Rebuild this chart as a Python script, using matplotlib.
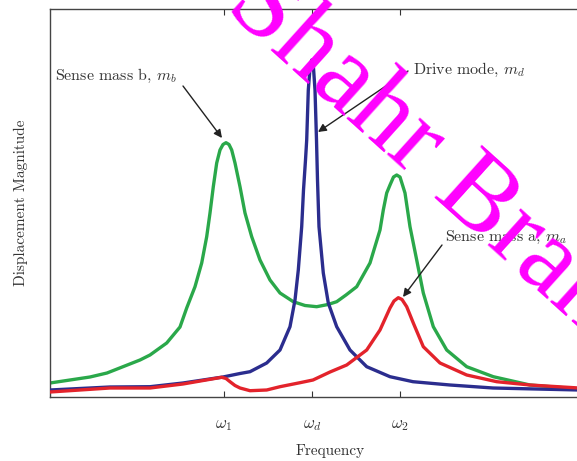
import matplotlib
matplotlib.use("Agg")
import matplotlib.pyplot as plt

plt.rcParams['font.family'] = 'serif'
plt.rcParams['font.serif'] = ['cmr10', 'DejaVu Serif']
plt.rcParams['mathtext.fontset'] = 'cm'
plt.rcParams['axes.unicode_minus'] = False

# ---- data (arbitrary frequency / magnitude units) ----
tick_pos = [17.4, 26.2, 35.0]
tick_labels = [r'$\omega_1$', r'$\omega_d$', r'$\omega_2$']

green_x = [0.0, 4.0, 5.7, 9.0, 10.0, 11.67, 13.0, 13.67, 14.5, 15.17,
           15.67, 16.0, 16.33, 16.67, 17.0, 17.3, 17.6, 17.9, 18.17, 18.5,
           19.0, 19.5, 20.17, 21.0, 22.0, 23.0, 24.33, 25.5, 26.67, 27.8,
           28.67, 29.6, 30.67, 32.0, 33.0, 33.33, 33.67, 34.0, 34.35, 34.67,
           35.0, 35.5, 36.0, 36.67, 37.33, 38.33, 39.67, 41.67, 44.33, 48.0,
           52.9]
green_y = [1.4, 2.0, 2.4, 3.7, 4.2, 5.4, 7.0, 8.9, 11.03, 13.4,
           16.03, 18.4, 21.03, 23.4, 24.7, 25.25, 25.43, 25.25, 24.7, 23.4,
           21.03, 18.4, 16.03, 13.7, 11.7, 10.4, 9.53, 9.15, 9.03, 9.25,
           9.53, 10.2, 11.03, 13.4, 16.7, 18.7, 20.4, 21.2, 22.0, 22.2,
           22.0, 20.4, 17.03, 13.7, 10.4, 7.03, 4.7, 3.03, 2.03, 1.2,
           0.8]

blue_x = [0.0, 6.0, 10.0, 13.3, 17.3, 19.0, 20.0, 21.67, 23.0, 24.0,
          24.5, 24.83, 25.17, 25.35, 25.55, 25.67, 25.83, 26.0, 26.17, 26.35,
          26.5, 26.65, 26.75, 26.9, 27.33, 27.83, 28.67, 30.0, 31.67, 34.0,
          36.3, 40.0, 44.3, 52.9]
blue_y = [0.7, 1.0, 1.03, 1.4, 2.0, 2.35, 2.53, 3.4, 4.7, 7.03,
          9.7, 12.7, 17.03, 20.7, 23.7, 25.7, 30.7, 32.9, 33.7, 32.9,
          30.7, 25.7, 21.7, 17.03, 12.4, 9.4, 7.03, 4.7, 3.03, 2.03,
          1.53, 1.2, 0.9, 0.7]

red_x = [0.0, 6.0, 10.0, 13.3, 17.17, 17.6, 18.0, 18.5, 19.0, 20.0,
         21.67, 23.0, 25.0, 26.3, 28.0, 29.67, 31.67, 33.0, 34.0, 34.4,
         34.83, 35.2, 35.67, 36.33, 37.33, 39.0, 41.67, 44.67, 48.0, 52.9]
red_y = [0.5, 0.9, 0.9, 1.3, 1.97, 1.85, 1.53, 1.15, 0.9, 0.63,
         0.7, 1.03, 1.43, 1.7, 2.5, 3.2, 4.7, 6.7, 8.9, 9.6,
         9.93, 9.75, 9.03, 7.4, 5.03, 3.4, 2.2, 1.53, 1.2, 0.9]

labels = ['Sense mass b, $m_b$', 'Drive mode, $m_d$', 'Sense mass a, $m_a$']
label_pos = [(0.5, 32.1), (36.3, 32.7), (39.5, 16.0)]
arrow_tail = [(13.3, 31.1), (35.8, 32.6), (39.2, 15.2)]
arrow_tip = [(17.2, 25.9), (26.8, 26.5), (35.3, 10.0)]

# ---- figure ----
W, H = 577, 461
fig = plt.figure(figsize=(W / 100, H / 100), dpi=100)
ax = fig.add_axes([50 / W, 64 / H, 560 / W, 388 / H])
ax.set_xlim(0, 56)
ax.set_ylim(0, 38.8)

lw = 2.4
ax.plot(green_x, green_y, color='#2aa84a', lw=lw, solid_joinstyle='round', zorder=2)
ax.plot(blue_x, blue_y, color='#2b2d8e', lw=lw, solid_joinstyle='round', zorder=3)
ax.plot(red_x, red_y, color='#e3232b', lw=lw, solid_joinstyle='round', zorder=4)

for s in ax.spines.values():
    s.set_color('#444444')
    s.set_linewidth(1.0)

ax.set_xticks(tick_pos)
ax.set_xticklabels(tick_labels, fontsize=12, color='#333333')
ax.set_yticks([])
ax.tick_params(axis='x', direction='in', top=True, length=4, width=0.8,
               color='#333333', pad=15)
ax.set_xlabel('Frequency', fontsize=11, color='#333333', labelpad=8)
ax.set_ylabel('Displacement Magnitude', fontsize=11, color='#333333', labelpad=16)

for txt, pos, tail, tip in zip(labels, label_pos, arrow_tail, arrow_tip):
    ax.text(pos[0], pos[1], txt, fontsize=11.5, color='#333333',
            ha='left', va='center', zorder=5)
    ax.annotate('', xy=tip, xytext=tail,
                arrowprops=dict(arrowstyle='-|>', color='#222222', lw=1.0,
                                mutation_scale=12, shrinkA=0, shrinkB=0),
                zorder=5)

# watermark
fig.text(224 / W, 1 - 8 / H, 'Shahr Bran', color='#ff00ff', fontsize=78,
         family='Liberation Serif', rotation=-42, rotation_mode='anchor',
         ha='left', va='baseline', zorder=10)

fig.savefig('out.png', dpi=100)
